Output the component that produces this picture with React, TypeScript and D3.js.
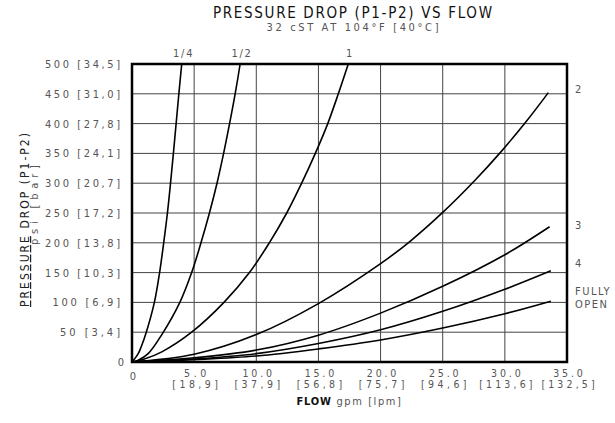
import React from 'react';
import * as d3 from 'd3';

// flow (gpm) vs pressure drop (psi)
const quarterTurn = [[0, 0], [0.2, 5], [0.5, 14], [0.75, 26], [1.15, 50], [1.8, 100], [2.22, 150], [2.55, 200], [2.85, 250], [3.1, 300], [3.33, 350], [3.55, 400], [3.77, 450], [4.0, 500]];
const halfTurn = [[0, 0], [0.5, 3], [1.3, 14], [2.4, 46], [3.85, 100], [4.8, 150], [5.55, 200], [6.23, 250], [6.84, 300], [7.37, 350], [7.85, 400], [8.3, 450], [8.7, 500]];
const oneTurn = [[0, 0], [1, 5], [2.4, 17], [4.8, 50], [7.4, 100], [9.45, 150], [11.05, 200], [12.45, 250], [13.65, 300], [14.75, 350], [15.75, 400], [16.6, 450], [17.4, 500]];
const twoTurns = [[0, 0], [5, 13], [10, 46], [15, 98], [20, 165], [22.4, 203], [25, 251], [27.6, 305], [29.7, 353], [31.7, 403], [33.5, 452]];
const threeTurns = [[0, 0], [5, 7], [10, 20], [15, 45], [20, 82], [25, 127], [30, 180], [33.6, 227]];
const fourTurns = [[0, 0], [5, 5], [10, 14], [15, 31], [20, 54], [25, 85], [30, 122], [33.7, 153]];
const fullyOpen = [[0, 0], [5, 4], [10, 10], [15, 22], [20, 37], [25, 57], [30, 81], [33.7, 102]];

const topCurves = [
  { label: '1/4', data: quarterTurn },
  { label: '1/2', data: halfTurn },
  { label: '1', data: oneTurn },
];
const sideCurves = [
  { label: ['2'], data: twoTurns, dy: -4 },
  { label: ['3'], data: threeTurns, dy: -2 },
  { label: ['4'], data: fourTurns, dy: -8 },
  { label: ['FULLY', 'OPEN'], data: fullyOpen, dy: -10 },
];

const xTicks = [5, 10, 15, 20, 25, 30, 35];
const xTickLpm = ['[18,9]', '[37,9]', '[56,8]', '[75,7]', '[94,6]', '[113,6]', '[132,5]'];
const yTicks = [50, 100, 150, 200, 250, 300, 350, 400, 450, 500];
const yTickBar = ['[3,4]', '[6,9]', '[10,3]', '[13,8]', '[17,2]', '[20,7]', '[24,1]', '[27,8]', '[31,0]', '[34,5]'];

const W = 615;
const H = 423;
const margin = { top: 64, right: 48, bottom: 61, left: 132 };
const FONT = "'DejaVu Sans Condensed', 'DejaVu Sans', sans-serif";
const GREY = '#555';

export default function App() {
  const x = d3.scaleLinear().domain([0, 35]).range([margin.left, W - margin.right]);
  const y = d3.scaleLinear().domain([0, 500]).range([H - margin.bottom, margin.top]);
  const line = d3.line<number[]>()
    .x(d => x(d[0]))
    .y(d => y(d[1]))
    .curve(d3.curveCatmullRom.alpha(0.5));

  const plotW = x(35) - x(0);
  const cx = (x(0) + x(35)) / 2;
  const midY = (y(0) + y(500)) / 2;

  return (
    <svg width={W} height={H} style={{ position: 'absolute', left: 0, top: 0, background: '#fff' }}
      fontFamily={FONT} fontStretch="condensed">
      {/* titles */}
      <text x={cx + 3} y={18} textAnchor="middle" fontSize={15} fill="#111" textLength={279} lengthAdjust="spacing">
        PRESSURE DROP (P1-P2) VS FLOW
      </text>
      <text x={cx + 3} y={31} textAnchor="middle" fontSize={11} fill={GREY} textLength={172} lengthAdjust="spacing">
        32 cST AT 104°F [40°C]
      </text>

      {/* grid */}
      {xTicks.slice(0, -1).map(t => (
        <line key={'gx' + t} x1={x(t)} x2={x(t)} y1={y(0)} y2={y(500)} stroke="#444" strokeWidth={1} />
      ))}
      {yTicks.slice(0, -1).map(t => (
        <line key={'gy' + t} x1={x(0)} x2={x(35)} y1={y(t)} y2={y(t)} stroke="#444" strokeWidth={1} />
      ))}

      {/* curves */}
      {[...topCurves, ...sideCurves].map((c, i) => (
        <path key={'c' + i} d={line(c.data) || ''} fill="none" stroke="#000" strokeWidth={1.6} />
      ))}

      {/* frame */}
      <rect x={x(0)} y={y(500)} width={plotW} height={y(0) - y(500)} fill="none" stroke="#000" strokeWidth={2.5} />

      {/* curve labels */}
      {topCurves.map(c => {
        const last = c.data[c.data.length - 1];
        return (
          <text key={'tl' + c.label} x={x(last[0]) + 1} y={57} textAnchor="middle" fontSize={11} fill={GREY}
            textLength={c.label.length * 6.5} lengthAdjust="spacing">
            {c.label}
          </text>
        );
      })}
      {sideCurves.map((c, i) => {
        const last = c.data[c.data.length - 1];
        return (
          <text key={'sl' + i} x={575} y={y(last[1]) + c.dy} fontSize={11} fill={GREY} letterSpacing={1.5}>
            {c.label.map((s, j) => (
              <tspan key={j} x={575} dy={j === 0 ? 4 : 13}>{s}</tspan>
            ))}
          </text>
        );
      })}

      {/* y axis labels */}
      <text x={124} y={y(0) + 4} textAnchor="end" fontSize={11} fill={GREY}>0</text>
      {yTicks.map((t, i) => {
        const s = `${t} ${yTickBar[i]}`;
        return (
          <text key={'yl' + t} x={120} y={y(t) + 4} textAnchor="end" fontSize={11} fill={GREY}
            textLength={s.length * 7.5} lengthAdjust="spacing">
            {s}
          </text>
        );
      })}

      {/* x axis labels */}
      <text x={x(0) + 1} y={380} textAnchor="middle" fontSize={11} fill={GREY}>0</text>
      {xTicks.map((t, i) => {
        const v = t.toFixed(1);
        return (
          <g key={'xl' + t}>
            <text x={x(t) + 1} y={377} textAnchor="middle" fontSize={10.5} fill={GREY}
              textLength={v.length * 7.4} lengthAdjust="spacing">
              {v}
            </text>
            <text x={x(t) + 1} y={388} textAnchor="middle" fontSize={10.5} fill={GREY}
              textLength={xTickLpm[i].length * 7.6} lengthAdjust="spacing">
              {xTickLpm[i]}
            </text>
          </g>
        );
      })}

      {/* axis titles */}
      <text x={cx} y={405} textAnchor="middle" fontSize={11} fill="#111">
        <tspan fontWeight="bold" letterSpacing={0.8}>FLOW</tspan>
        <tspan fill={GREY} letterSpacing={1.6}> gpm [lpm]</tspan>
      </text>
      <text transform={`translate(29,${midY + 7}) rotate(-90)`} textAnchor="middle" fontSize={12} fill="#222"
        textLength={174} lengthAdjust="spacing">
        <tspan textDecoration="underline">PRESSURE</tspan> DROP (P1-P2)
      </text>
      <text transform={`translate(38,${midY - 8}) rotate(-90)`} textAnchor="middle" fontSize={11} fill={GREY}
        textLength={80} lengthAdjust="spacing">
        psi [bar]
      </text>
    </svg>
  );
}
